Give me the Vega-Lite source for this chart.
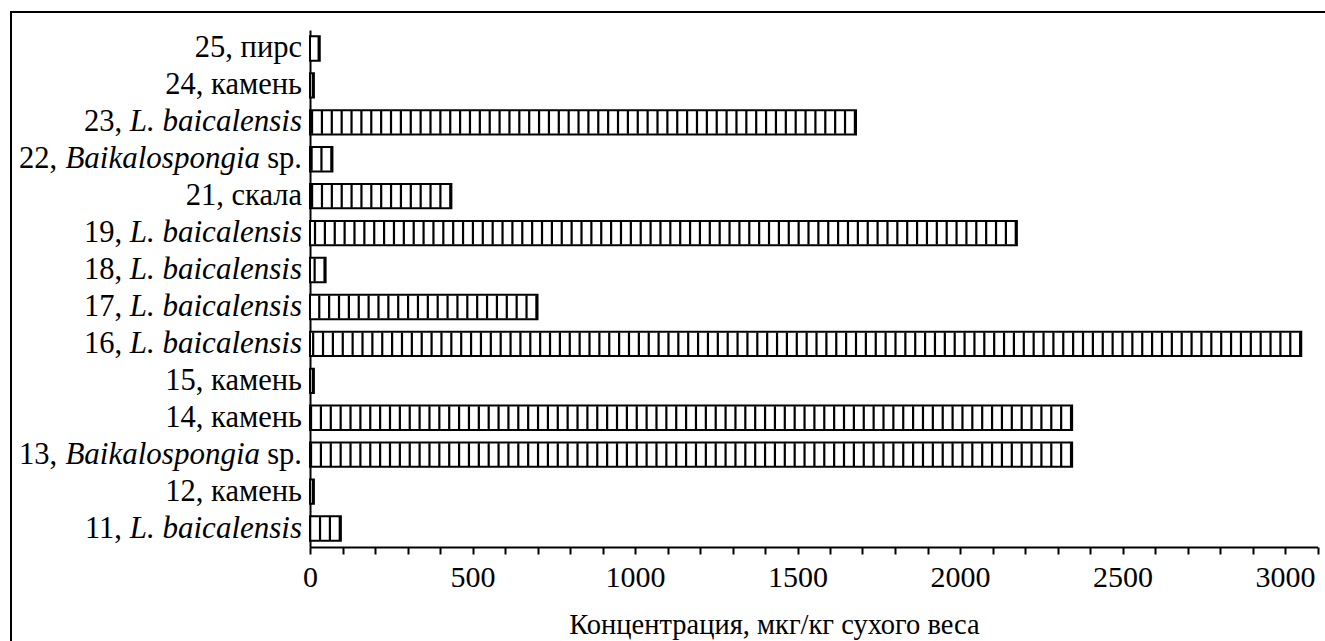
{
  "$schema": "https://vega.github.io/schema/vega-lite/v6.json",
  "width": 1324,
  "height": 639,
  "autosize": {"type": "none"},
  "padding": {"left": 11, "top": 12, "right": -10, "bottom": -10},
  "background": "white",
  "config": {
    "view": {"stroke": "black", "strokeWidth": 2},
    "font": "Liberation Serif",
    "text": {"font": "Liberation Serif"},
    "axis": {"labelFont": "Liberation Serif", "titleFont": "Liberation Serif"}
  },
  "data": {
    "values": [
      {"id": "25", "v": 30, "kind": "plain", "pre": "25, пирс"},
      {"id": "24", "v": 12, "kind": "plain", "pre": "24, камень"},
      {"id": "23", "v": 1680, "kind": "L", "pre": "23,", "ital": "L. baicalensis"},
      {"id": "22", "v": 69, "kind": "B", "pre": "22,", "ital": "Baikalospongia", "suf": "sp."},
      {"id": "21", "v": 435, "kind": "plain", "pre": "21, скала"},
      {"id": "19", "v": 2175, "kind": "L", "pre": "19,", "ital": "L. baicalensis"},
      {"id": "18", "v": 48, "kind": "L", "pre": "18,", "ital": "L. baicalensis"},
      {"id": "17", "v": 700, "kind": "L", "pre": "17,", "ital": "L. baicalensis"},
      {"id": "16", "v": 3050, "kind": "L", "pre": "16,", "ital": "L. baicalensis"},
      {"id": "15", "v": 12, "kind": "plain", "pre": "15, камень"},
      {"id": "14", "v": 2345, "kind": "plain", "pre": "14, камень"},
      {"id": "13", "v": 2345, "kind": "B", "pre": "13,", "ital": "Baikalospongia", "suf": "sp."},
      {"id": "12", "v": 12, "kind": "plain", "pre": "12, камень"},
      {"id": "11", "v": 95, "kind": "L", "pre": "11,", "ital": "L. baicalensis"}
    ]
  },
  "encoding": {
    "y": {
      "field": "id",
      "type": "nominal",
      "sort": null,
      "scale": {"range": [18, 535], "paddingInner": 0.34, "paddingOuter": 0.17},
      "axis": {
        "title": null,
        "labels": false,
        "ticks": false,
        "domainColor": "black",
        "domainWidth": 2,
        "offset": -299
      }
    }
  },
  "layer": [
    {
      "mark": {"type": "bar", "fill": "white", "stroke": null},
      "encoding": {
        "x": {
          "field": "v",
          "type": "quantitative",
          "scale": {"domain": [0, 3100], "range": [299, 1306.5], "nice": false, "zero": true},
          "axis": {
            "title": "Концентрация, мкг/кг сухого веса",
            "values": [0,100,200,300,400,500,600,700,800,900,1000,1100,1200,1300,1400,1500,1600,1700,1800,1900,2000,2100,2200,2300,2400,2500,2600,2700,2800,2900,3000,3100],
            "labelExpr": "datum.value % 500 === 0 ? datum.label : ''",
            "format": "d",
            "grid": false,
            "offset": -104,
            "tickSize": 7,
            "tickWidth": 2,
            "tickColor": "black",
            "domainColor": "black",
            "domainWidth": 2,
            "labelFontSize": 30,
            "labelColor": "black",
            "labelPadding": 8,
            "labelFlush": false,
            "labelOverlap": false,
            "titleFontSize": 28.5,
            "titleFontWeight": "normal",
            "titleColor": "black",
            "titleX": 763,
            "titlePadding": 18
          }
        }
      }
    },
    {
      "mark": {"type": "rule", "strokeWidth": 23, "strokeDash": [2.2, 7.67], "strokeCap": "butt", "color": "black"},
      "encoding": {
        "x": {"field": "v", "type": "quantitative"},
        "x2": {"datum": 0}
      }
    },
    {
      "mark": {"type": "bar", "fill": "transparent", "stroke": "black", "strokeWidth": 2},
      "encoding": {"x": {"field": "v", "type": "quantitative"}}
    },
    {
      "transform": [{"filter": "datum.kind === 'plain'"}],
      "mark": {"type": "text", "align": "right", "baseline": "middle", "dx": -8, "fontSize": 30.5, "color": "black"},
      "encoding": {"x": {"datum": 0, "type": "quantitative"}, "text": {"field": "pre"}}
    },
    {
      "transform": [{"filter": "datum.kind === 'L'"}],
      "mark": {"type": "text", "align": "right", "baseline": "middle", "dx": -8, "fontSize": 31, "fontStyle": "italic", "color": "black"},
      "encoding": {"x": {"datum": 0, "type": "quantitative"}, "text": {"field": "ital"}}
    },
    {
      "transform": [{"filter": "datum.kind === 'L'"}],
      "mark": {"type": "text", "align": "right", "baseline": "middle", "dx": -188, "fontSize": 30.5, "color": "black"},
      "encoding": {"x": {"datum": 0, "type": "quantitative"}, "text": {"field": "pre"}}
    },
    {
      "transform": [{"filter": "datum.kind === 'B'"}],
      "mark": {"type": "text", "align": "right", "baseline": "middle", "dx": -8, "fontSize": 30.5, "color": "black"},
      "encoding": {"x": {"datum": 0, "type": "quantitative"}, "text": {"field": "suf"}}
    },
    {
      "transform": [{"filter": "datum.kind === 'B'"}],
      "mark": {"type": "text", "align": "right", "baseline": "middle", "dx": -50, "fontSize": 31, "fontStyle": "italic", "color": "black"},
      "encoding": {"x": {"datum": 0, "type": "quantitative"}, "text": {"field": "ital"}}
    },
    {
      "transform": [{"filter": "datum.kind === 'B'"}],
      "mark": {"type": "text", "align": "right", "baseline": "middle", "dx": -253, "fontSize": 30.5, "color": "black"},
      "encoding": {"x": {"datum": 0, "type": "quantitative"}, "text": {"field": "pre"}}
    }
  ]
}
